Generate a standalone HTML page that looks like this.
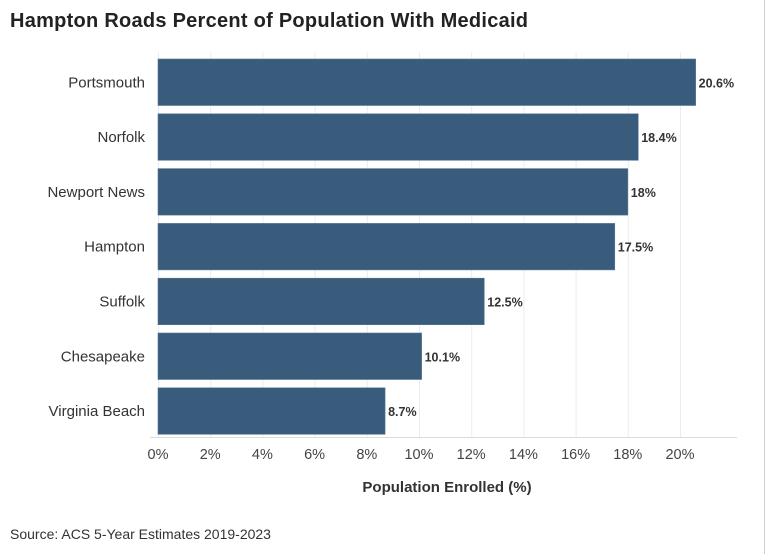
<!DOCTYPE html>
<html><head><meta charset="utf-8"><style>
body{margin:0;background:#fff;}
svg{display:block;font-family:"Liberation Sans",sans-serif;}
</style></head><body>
<svg id="chart" width="766" height="554">
<rect x="0" y="0" width="766" height="554" fill="#fff"/>
<line x1="764.5" y1="0" x2="764.5" y2="554" stroke="#d0d0d0"/>
<text x="10" y="27" font-size="20" font-weight="bold" fill="#222" textLength="518">Hampton Roads Percent of Population With Medicaid</text>
<g id="grid"></g>
<g id="bars"></g>
<g id="xticks"></g>
<line x1="150" y1="437.5" x2="737" y2="437.5" stroke="#dcdcdc"/>
<text x="447" y="492" font-size="15" font-weight="bold" fill="#333" text-anchor="middle">Population Enrolled (%)</text>
<text x="10" y="539" font-size="14" fill="#333">Source: ACS 5-Year Estimates 2019-2023</text>
</svg>
<script>
const categories=["Portsmouth","Norfolk","Newport News","Hampton","Suffolk","Chesapeake","Virginia Beach"];
const values=[20.6,18.4,18,17.5,12.5,10.1,8.7];
const valueLabels=["20.6%","18.4%","18%","17.5%","12.5%","10.1%","8.7%"];
const ticks=[0,2,4,6,8,10,12,14,16,18,20];
const NS="http://www.w3.org/2000/svg";
const x=v=>158+v*26.1;
const bandTop=i=>59+i*54.8;
const bh=46.5;
function mk(tag,attrs,parent){const e=document.createElementNS(NS,tag);for(const k in attrs)e.setAttribute(k,attrs[k]);parent.appendChild(e);return e;}
const grid=document.getElementById('grid'),bars=document.getElementById('bars'),xt=document.getElementById('xticks');
ticks.forEach(t=>{
  const l=mk('line',{x1:x(t)+0.5,x2:x(t)+0.5,y1:52,y2:437,stroke:'#ececec'},grid);
  
  
  const tx=mk('text',{x:x(t),y:459,'font-size':14.5,fill:'#444','text-anchor':'middle'},xt);
  tx.textContent=t+'%';
  
  
});
categories.forEach((c,i)=>{
  const y=bandTop(i);
  const r=mk('rect',{x:x(0),y:y,width:x(values[i])-x(0),height:bh,fill:'#395b7c',stroke:'#5a7896','stroke-width':0.6},bars);
  
  
  const lb=mk('text',{x:145,y:y+bh/2+5,'font-size':15,fill:'#333','text-anchor':'end'},bars);
  lb.textContent=c;
  
  
  const vl=mk('text',{x:x(values[i])+3,y:y+bh/2+5,'font-size':12.5,'font-weight':'bold',fill:'#333'},bars);
  vl.textContent=valueLabels[i];
  
  
});
</script>
</body></html>
